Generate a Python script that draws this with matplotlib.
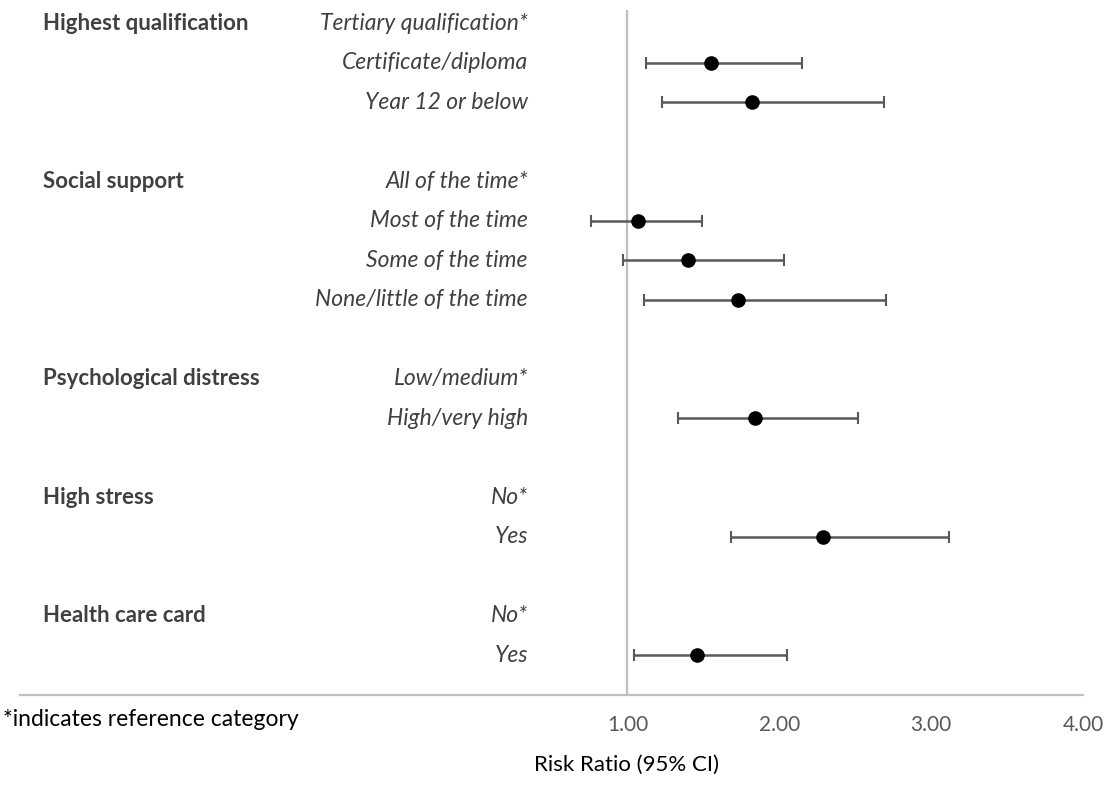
import numpy as np
import matplotlib
matplotlib.use("Agg")
import matplotlib.pyplot as plt
from matplotlib.transforms import blended_transform_factory

# Groups and their category labels (reference categories marked with *)
headers = ["Highest qualification", "Social support", "Psychological distress",
           "High stress", "Health care card"]
group_labels = [
    ["Tertiary qualification*", "Certificate/diploma", "Year 12 or below"],
    ["All of the time*", "Most of the time", "Some of the time", "None/little of the time"],
    ["Low/medium*", "High/very high"],
    ["No*", "Yes"],
    ["No*", "Yes"],
]
# Risk ratio and 95% CI per category (nan = reference category)
rr = [[np.nan, 1.55, 1.82],
      [np.nan, 1.07, 1.40, 1.73],
      [np.nan, 1.84],
      [np.nan, 2.29],
      [np.nan, 1.46]]
ci_low = [[np.nan, 1.12, 1.23],
          [np.nan, 0.76, 0.97, 1.11],
          [np.nan, 1.33],
          [np.nan, 1.68],
          [np.nan, 1.04]]
ci_high = [[np.nan, 2.15, 2.69],
           [np.nan, 1.49, 2.03, 2.70],
           [np.nan, 2.52],
           [np.nan, 3.12],
           [np.nan, 2.05]]
tick_values = [1, 2, 3, 4]

fig = plt.figure(figsize=(11.1, 7.89), dpi=100)
ax = fig.add_axes([20 / 1110, 1 - 694.5 / 789, 1063 / 1110, 684.5 / 789])

text_col = "#404040"
bar_col = "#595959"

# row positions: one row per category, one blank row between groups
row = 0
header_rows, rows, xs, lo, hi, labels = [], [], [], [], [], []
for g, labs in enumerate(group_labels):
    header_rows.append(row)
    for i, lab in enumerate(labs):
        rows.append(row)
        labels.append(lab)
        xs.append(rr[g][i])
        lo.append(ci_low[g][i])
        hi.append(ci_high[g][i])
        row += 1
    row += 1
rows = np.array(rows, dtype=float)
xs = np.array(xs)
lo = np.array(lo)
hi = np.array(hi)

ax.axvline(1, color="#bfbfbf", lw=1.6, zorder=1)

ax.errorbar(xs, rows, xerr=[xs - lo, hi - xs], fmt="none", ecolor=bar_col,
            elinewidth=1.8, capsize=4.5, capthick=1.5, zorder=2)
ax.plot(xs, rows, "o", color="black", markersize=9.5, zorder=3)

ax.set_xlim(-3, 4)
ax.set_ylim(17, -0.33)
ax.set_yticks([])
ax.set_xticks(tick_values)
ax.set_xticklabels([f"{v:.2f}" for v in tick_values], family="Lato")
ax.tick_params(axis="x", length=0, pad=15, labelsize=15, labelcolor=bar_col)
for s in ["left", "top", "right"]:
    ax.spines[s].set_visible(False)
ax.spines["bottom"].set_color("#bfbfbf")
ax.spines["bottom"].set_linewidth(1.6)

trans = blended_transform_factory(fig.transFigure, ax.transData)
for h, r in zip(headers, header_rows):
    ax.text(43 / 1110, r, h, transform=trans, ha="left", va="center",
            fontsize=16, fontweight="bold", color=text_col, family="Lato")
for lab, r in zip(labels, rows):
    ax.text(528 / 1110, r, lab, transform=trans, ha="right", va="center",
            fontsize=16.5, fontstyle="italic", color=text_col, family="Lato")

fig.text(627 / 1110, 1 - 765 / 789, "Risk Ratio (95% CI)", ha="center", va="center",
         fontsize=16, color="black", family="Lato")
fig.text(3 / 1110, 1 - 720 / 789, "*indicates reference category", ha="left", va="center",
         fontsize=16.5, color="black", family="Lato")

fig.savefig("out.png", dpi=100)
